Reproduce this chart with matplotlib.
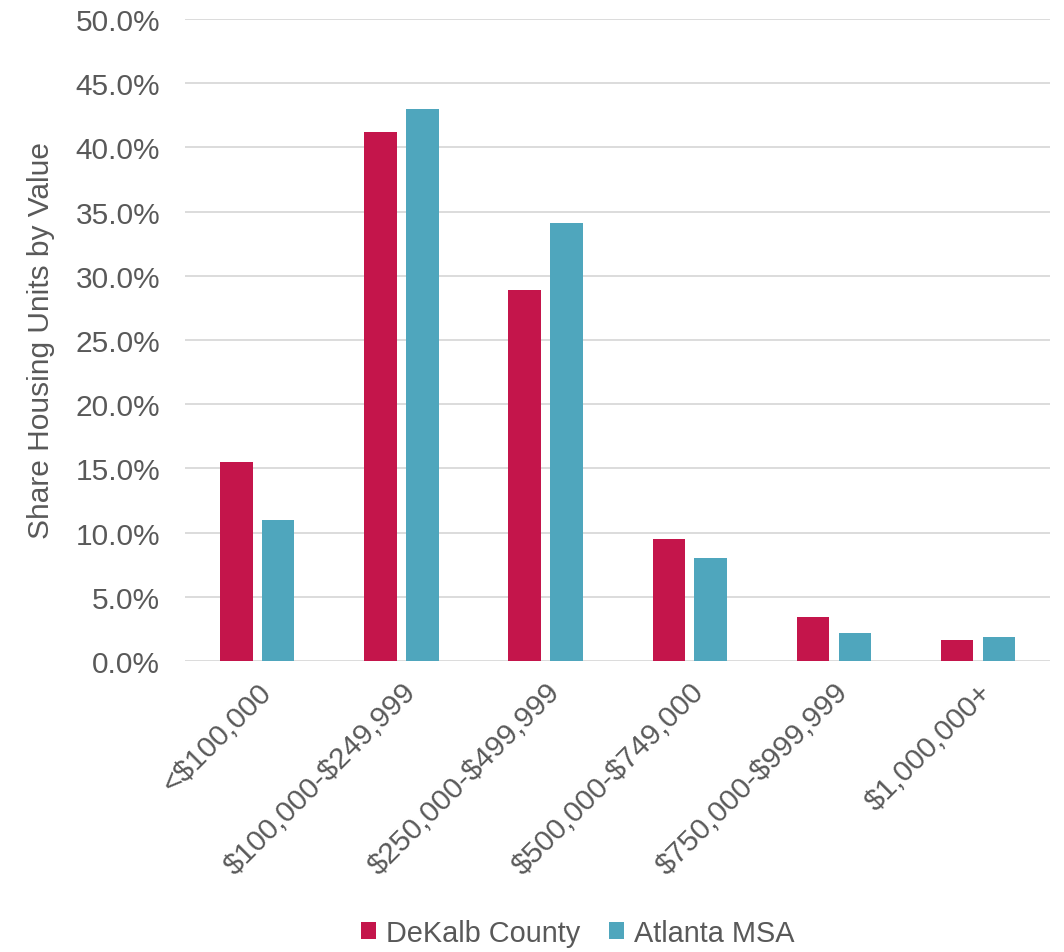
import matplotlib
matplotlib.use("Agg")
import matplotlib.pyplot as plt
import numpy as np
from matplotlib.ticker import PercentFormatter

categories = ["<$100,000", "$100,000-$249,999", "$250,000-$499,999",
              "$500,000-$749,000", "$750,000-$999,999", "$1,000,000+"]
dekalb = [15.5, 41.2, 28.9, 9.5, 3.4, 1.6]
atlanta = [11.0, 43.0, 34.1, 8.0, 2.2, 1.9]
series_names = ["DeKalb County", "Atlanta MSA"]

plt.rcParams['font.family'] = ['Liberation Sans', 'DejaVu Sans']
plt.rcParams['text.parse_math'] = False
text_color = "#595959"
c1 = "#C4154B"
c2 = "#4FA6BD"
fs = 21.5

fig = plt.figure(figsize=(10.64, 9.53), dpi=100)
ax = fig.add_axes([0.174, 0.3054, 0.813, 0.6736])

x = np.arange(len(categories))
w = 0.225
off = 0.145
ax.bar(x - off, dekalb, w, color=c1, label=series_names[0], zorder=3)
ax.bar(x + off, atlanta, w, color=c2, label=series_names[1], zorder=3)

ax.set_xlim(-0.5, len(categories) - 0.5)
ax.set_ylim(0, 50)
ax.set_yticks(np.arange(0, 50.1, 5))
ax.yaxis.set_major_formatter(PercentFormatter(decimals=1))
ax.grid(axis='y', color="#D9D9D9", linewidth=1.3, zorder=0)
for s in ax.spines.values():
    s.set_visible(False)
ax.tick_params(axis='both', length=0, colors=text_color, labelsize=fs)
ax.tick_params(axis='y', pad=18)
ax.set_xticks(x)
ax.set_xticklabels(categories, rotation=45, ha='right', rotation_mode='anchor')
ax.tick_params(axis='x', pad=12)
ax.set_ylabel("Share Housing Units by Value", fontsize=fs, color=text_color, labelpad=15)

leg = fig.legend(loc='lower center', bbox_to_anchor=(0.543, -0.022), ncol=2, frameon=False,
                 fontsize=20.8, handlelength=0.5, handleheight=0.5, handletextpad=0.35,
                 columnspacing=1.0, labelcolor=text_color)

fig.savefig("out.png", dpi=100)
